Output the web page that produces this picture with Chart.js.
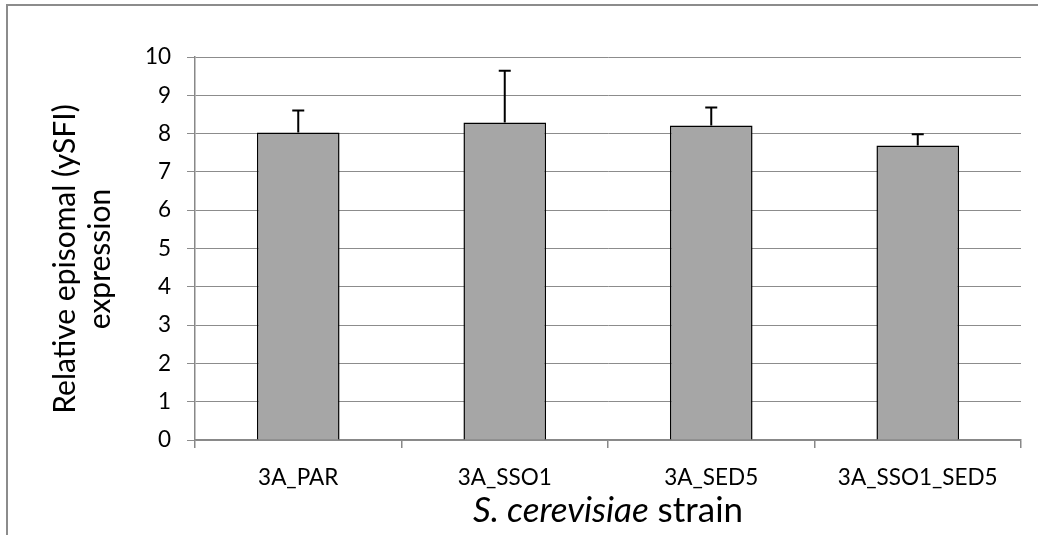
<!DOCTYPE html>
<html>
<head>
<meta charset="utf-8">
<script src="https://cdn.jsdelivr.net/npm/chart.js@4/dist/chart.umd.min.js"></script>
<style>
  html, body { margin: 0; padding: 0; background: #fff; }
  #wrap { width: 1038px; height: 535px; }
</style>
</head>
<body>
<div id="wrap"><canvas id="chart"></canvas></div>
<script>
const strains = ["3A_PAR", "3A_SSO1", "3A_SED5", "3A_SSO1_SED5"];
const expression = [8.03, 8.29, 8.21, 7.69];
const errorUp = [0.57, 1.35, 0.47, 0.29];
const yTicks = [0, 1, 2, 3, 4, 5, 6, 7, 8, 9, 10];

const FONT = "Lato, 'Open Sans', sans-serif";

// outer frame of the original figure
const framePlugin = {
  id: "frame",
  beforeDraw(chart) {
    const ctx = chart.ctx;
    ctx.save();
    ctx.strokeStyle = "#8c8c8c";
    ctx.lineWidth = 2;
    ctx.strokeRect(7, 5, chart.width + 20, chart.height + 20);
    ctx.restore();
  },
};

// one-sided error bars, drawn from the y scale
const errorBarPlugin = {
  id: "errorBars",
  afterDatasetsDraw(chart) {
    const ctx = chart.ctx;
    const yScale = chart.scales.y;
    const meta = chart.getDatasetMeta(0);
    ctx.save();
    ctx.strokeStyle = "#000";
    ctx.lineWidth = 2;
    meta.data.forEach((bar, i) => {
      const top = yScale.getPixelForValue(expression[i] + errorUp[i]);
      ctx.beginPath();
      ctx.moveTo(bar.x, bar.y);
      ctx.lineTo(bar.x, top);
      ctx.moveTo(bar.x - 6, top);
      ctx.lineTo(bar.x + 6, top);
      ctx.stroke();
    });
    ctx.restore();
  },
};

// axis titles (x title has an italic species name)
const titlePlugin = {
  id: "axisTitles",
  afterDraw(chart) {
    const ctx = chart.ctx;
    const area = chart.chartArea;
    ctx.save();
    ctx.fillStyle = "#000";
    ctx.textBaseline = "alphabetic";

    const parts = [
      { text: "S. ", italic: true },
      { text: "cerevisiae", italic: true },
      { text: " strain", italic: false },
    ];
    const size = 35;
    let total = 0;
    parts.forEach((p) => {
      ctx.font = `${p.italic ? "italic " : ""}${size}px ${FONT}`;
      p.w = ctx.measureText(p.text).width;
      total += p.w;
    });
    let x = (area.left + area.right) / 2 - total / 2;
    parts.forEach((p) => {
      ctx.font = `${p.italic ? "italic " : ""}${size}px ${FONT}`;
      ctx.textAlign = "left";
      ctx.fillText(p.text, x, 522);
      x += p.w;
    });

    ctx.translate(0, 259);
    ctx.rotate(-Math.PI / 2);
    ctx.textAlign = "center";
    ctx.textBaseline = "middle";
    ctx.font = `30px ${FONT}`;
    ctx.fillText("Relative episomal (ySFI)", 0, 65);
    ctx.fillText("expression", 0, 100);
    ctx.restore();
  },
};

new Chart(document.getElementById("chart"), {
  type: "bar",
  data: {
    labels: strains,
    datasets: [
      {
        data: expression,
        backgroundColor: "#a6a6a6",
        borderColor: "#000",
        borderWidth: 1.5,
        categoryPercentage: 1,
        barPercentage: 0.4,
      },
    ],
  },
  options: {
    responsive: true,
    maintainAspectRatio: false,
    animation: false,
    layout: { padding: { left: 8, right: 17, top: 57, bottom: 0 } },
    plugins: {
      legend: { display: false },
      tooltip: { enabled: false },
    },
    scales: {
      x: {
        grid: {
          offset: true,
          drawOnChartArea: false,
          drawTicks: true,
          tickLength: 8,
          color: "#888",
          lineWidth: 1.5,
        },
        border: { color: "#888", width: 1.5 },
        ticks: {
          color: "#000",
          font: { family: FONT, size: 22.5 },
          padding: 16,
          maxRotation: 0,
        },
        afterFit(scale) {
          scale.height = 95;
        },
      },
      y: {
        min: 0,
        max: 10,
        afterBuildTicks(scale) {
          scale.ticks = yTicks.map((v) => ({ value: v }));
        },
        grid: {
          color: "#8c8c8c",
          lineWidth: 1,
          tickLength: 8,
        },
        border: { color: "#888", width: 1.5 },
        ticks: {
          color: "#000",
          font: { family: FONT, size: 22.5 },
          padding: 16,
        },
        afterFit(scale) {
          scale.width = 187;
        },
      },
    },
  },
  plugins: [framePlugin, errorBarPlugin, titlePlugin],
});
</script>
</body>
</html>
